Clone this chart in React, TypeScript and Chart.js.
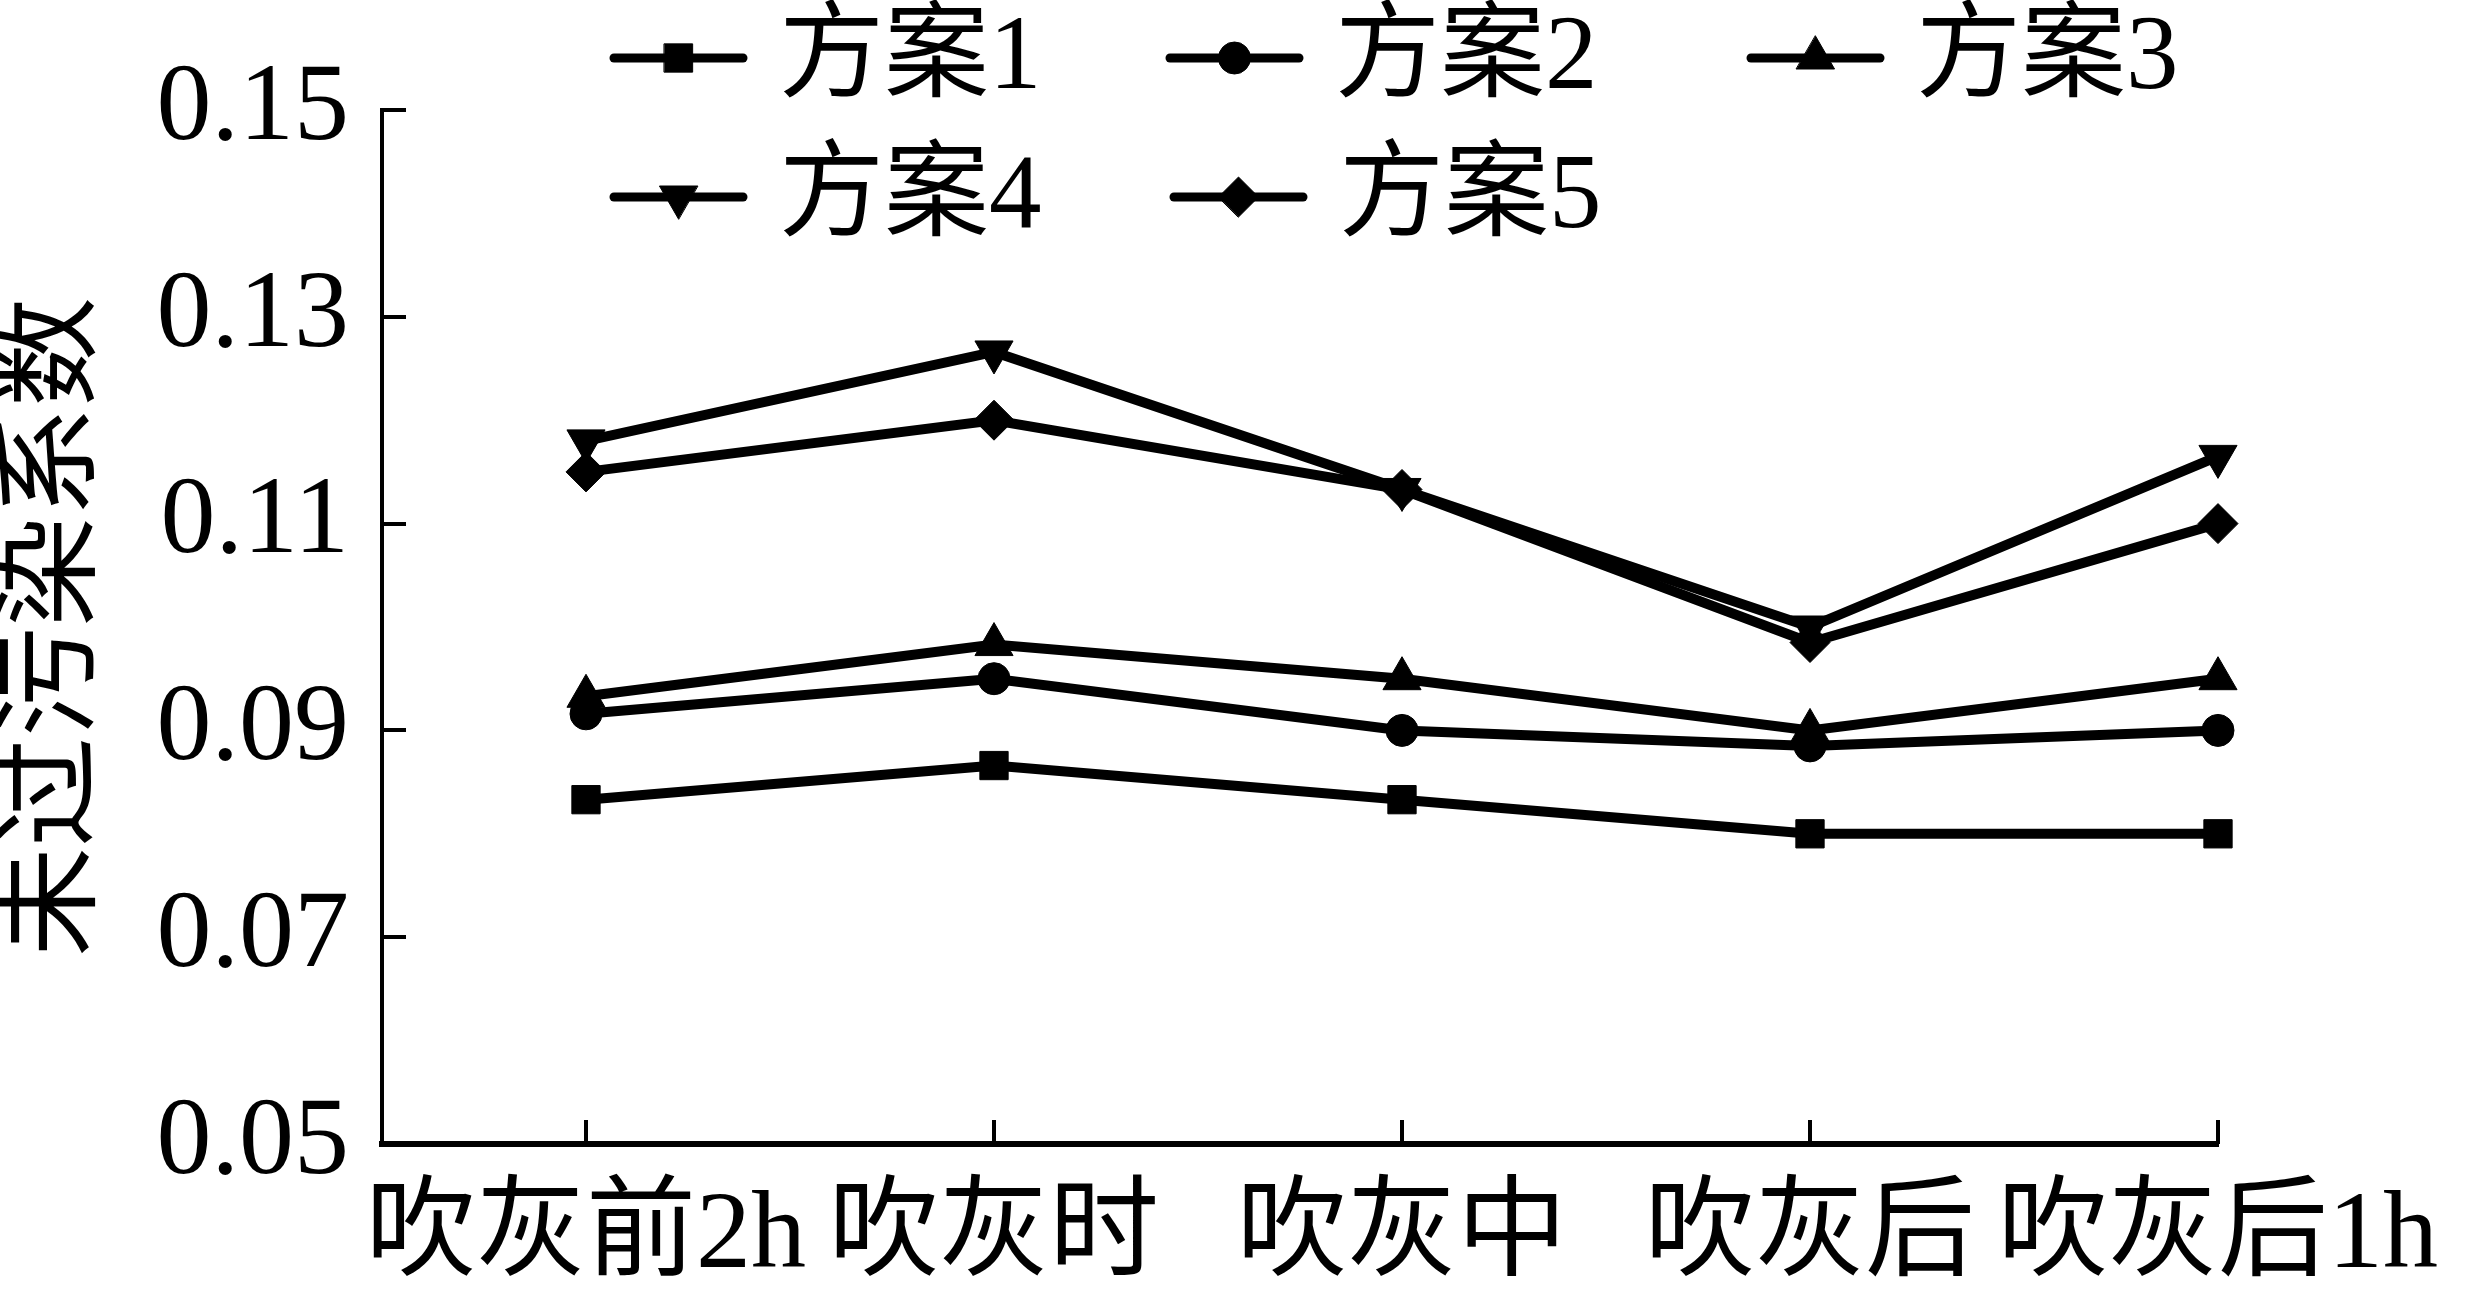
import React, { useEffect, useRef } from 'react';
import { Chart, registerables, PointElement } from 'chart.js';

Chart.register(...registerables);

const categories = ['吹灰前2h', '吹灰时', '吹灰中', '吹灰后', '吹灰后1h'];
const seriesNames = ['方案1', '方案2', '方案3', '方案4', '方案5'];
const plan1 = [0.0833, 0.0866, 0.0833, 0.08, 0.08];
const plan2 = [0.0916, 0.095, 0.09, 0.0885, 0.09];
const plan3 = [0.0933, 0.0983, 0.095, 0.09, 0.095];
const plan4 = [0.118, 0.1266, 0.1133, 0.1, 0.1165];
const plan5 = [0.115, 0.12, 0.1133, 0.0985, 0.11];
const yTickValues = [0.05, 0.07, 0.09, 0.11, 0.13, 0.15];
const yTitle = '未过污染系数';

const seriesValues = [plan1, plan2, plan3, plan4, plan5];
const markers = [
  { pointStyle: 'rect', rotation: 0, radius: 20 },
  { pointStyle: 'circle', rotation: 0, radius: 16 },
  { pointStyle: 'triangle', rotation: 0, radius: 22 },
  { pointStyle: 'triangle', rotation: 180, radius: 22 },
  { pointStyle: 'rectRot', rotation: 0, radius: 20 },
];
const legendPos = [
  [610, 58],
  [1166, 58],
  [1747, 58],
  [610, 197],
  [1170, 197],
];

const FONT = '"Liberation Serif", "Noto Sans CJK SC", serif';
const LINE_W = 10;

const inwardTicks = {
  id: 'inwardTicks',
  afterDraw(chart: any) {
    const { ctx, chartArea, scales } = chart;
    ctx.save();
    ctx.strokeStyle = '#000';
    ctx.lineWidth = 4;
    ctx.beginPath();
    scales.y.ticks.forEach((t: any) => {
      const y = Math.round(scales.y.getPixelForValue(t.value));
      ctx.moveTo(chartArea.left, y);
      ctx.lineTo(chartArea.left + 24, y);
    });
    scales.x.ticks.forEach((t: any) => {
      const x = Math.round(scales.x.getPixelForValue(t.value));
      ctx.moveTo(x, chartArea.bottom);
      ctx.lineTo(x, chartArea.bottom - 24);
    });
    ctx.stroke();
    ctx.restore();
  },
};

const customLegend = {
  id: 'customLegend',
  afterDraw(chart: any) {
    const { ctx } = chart;
    ctx.save();
    chart.data.datasets.forEach((ds: any, i: number) => {
      const [x0, y] = legendPos[i];
      const len = 137;
      ctx.strokeStyle = '#000';
      ctx.lineWidth = 9;
      ctx.lineCap = 'round';
      ctx.beginPath();
      ctx.moveTo(x0 + 4, y);
      ctx.lineTo(x0 + len - 4, y);
      ctx.stroke();
      const m = markers[i];
      const pe: any = new (PointElement as any)({
        x: x0 + len / 2,
        y,
        options: {
          pointStyle: m.pointStyle,
          rotation: m.rotation,
          radius: m.radius,
          borderWidth: 1,
          borderColor: '#000',
          backgroundColor: '#000',
        },
      });
      pe.draw(ctx);
      ctx.fillStyle = '#000';
      ctx.font = `105px ${FONT}`;
      ctx.textBaseline = 'middle';
      ctx.textAlign = 'left';
      ctx.fillText(ds.label, x0 + len + 32, y + 2);
    });
    ctx.restore();
  },
};

export default function App() {
  const ref = useRef<HTMLCanvasElement>(null);
  useEffect(() => {
    const datasets = seriesValues.map((vals, i) => ({
      label: seriesNames[i],
      data: vals.map((v, j) => ({ x: j, y: v })),
      borderColor: '#000',
      backgroundColor: '#000',
      borderWidth: LINE_W,
      pointStyle: markers[i].pointStyle as any,
      pointRotation: markers[i].rotation,
      pointRadius: markers[i].radius,
      pointBorderWidth: 1,
      pointBackgroundColor: '#000',
      pointBorderColor: '#000',
      tension: 0,
      clip: false as any,
    }));
    const chart = new Chart(ref.current as HTMLCanvasElement, {
      type: 'line',
      data: { datasets },
      options: {
        animation: false,
        responsive: false,
        devicePixelRatio: 1,
        layout: { padding: { left: 0, top: 110, right: 250, bottom: 0 } },
        plugins: { legend: { display: false }, tooltip: { enabled: false } },
        scales: {
          x: {
            type: 'linear',
            min: -0.5,
            max: 4,
            afterBuildTicks: (s: any) => {
              s.ticks = categories.map((_, i) => ({ value: i }));
            },
            afterFit: (s: any) => {
              s.height = 165;
            },
            ticks: {
              callback: (_v: any, i: number) => categories[i],
              color: '#000',
              font: { family: FONT, size: 110 },
              padding: 28,
              maxRotation: 0,
              autoSkip: false,
            },
            grid: { drawOnChartArea: false, drawTicks: false },
            border: { color: '#000', width: 6 },
          },
          y: {
            type: 'linear',
            min: 0.05,
            max: 0.15,
            afterBuildTicks: (s: any) => {
              s.ticks = yTickValues.map((v) => ({ value: v }));
            },
            afterFit: (s: any) => {
              s.width = 382;
            },
            ticks: {
              callback: (v: any) => Number(v).toFixed(2),
              color: '#000',
              font: { family: FONT, size: 110 },
              padding: 33,
            },
            grid: { drawOnChartArea: false, drawTicks: false },
            border: { color: '#000', width: 4 },
            title: {
              display: true,
              text: yTitle,
              color: '#000',
              font: { family: FONT, size: 110, lineHeight: 1 },
              padding: { top: 2, bottom: 0 },
            },
          },
        },
      },
      plugins: [inwardTicks, customLegend],
    });
    return () => chart.destroy();
  }, []);
  return (
    <div style={{ position: 'absolute', left: 0, top: 0, width: 2468, height: 1309, background: '#fff' }}>
      <canvas ref={ref} width={2468} height={1309} style={{ display: 'block' }} />
    </div>
  );
}
